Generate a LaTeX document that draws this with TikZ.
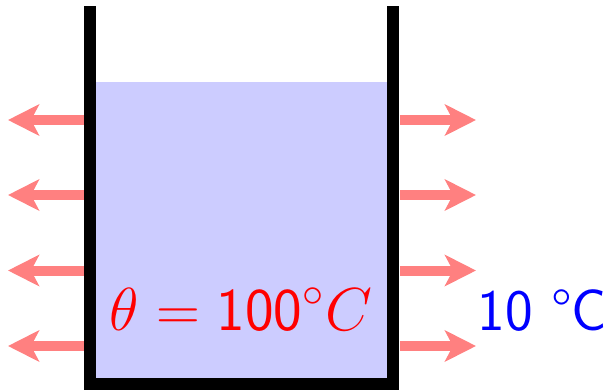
\documentclass[tikz,border=0pt]{standalone}
\usepackage{tikz}
\usetikzlibrary{arrows.meta}

\begin{document}
\begin{tikzpicture}[
    x=0.01cm,
    y=-0.01cm,
    wall/.style={
        draw=black,
        line width=0.12cm,
        line cap=butt,
        line join=miter
    },
    heat/.style={
        draw=red!50,
        line width=0.1cm,
        -{Stealth[length=0.31cm, width=0.31cm, inset=0.08cm]}
    },
    label/.style={
        inner sep=0pt,
        font=\fontsize{16.7}{20}\selectfont\sffamily
    }
]
    \useasboundingbox (0,0) rectangle (611,390);

    % --- LIQUID ---
    \fill [blue!20] (96,82) rectangle (387,378);

    % --- CONTAINER ---
    \draw [wall] (90,6) -- (90,384) -- (393,384) -- (393,6);

    % --- HEAT FLOW ---
    \foreach \y [count=\i] in {120,195,270.5,346} {
        \coordinate (lwall\i) at (84,\y);
        \coordinate (ltip\i) at (8,\y);
        \coordinate (rwall\i) at (400,\y);
        \coordinate (rtip\i) at (476,\y);
        \draw [heat] (lwall\i) -- (ltip\i);
        \draw [heat] (rwall\i) -- (rtip\i);
    }

    % --- TEMPERATURES ---
    \node [label, text=red, anchor=base] (inside) at (241,330) {$\theta = \mathsf{100}^\circ C$};
    \node [label, text=blue, anchor=base east] (outside) at (608,330) {10 °C};
\end{tikzpicture}
\end{document}
